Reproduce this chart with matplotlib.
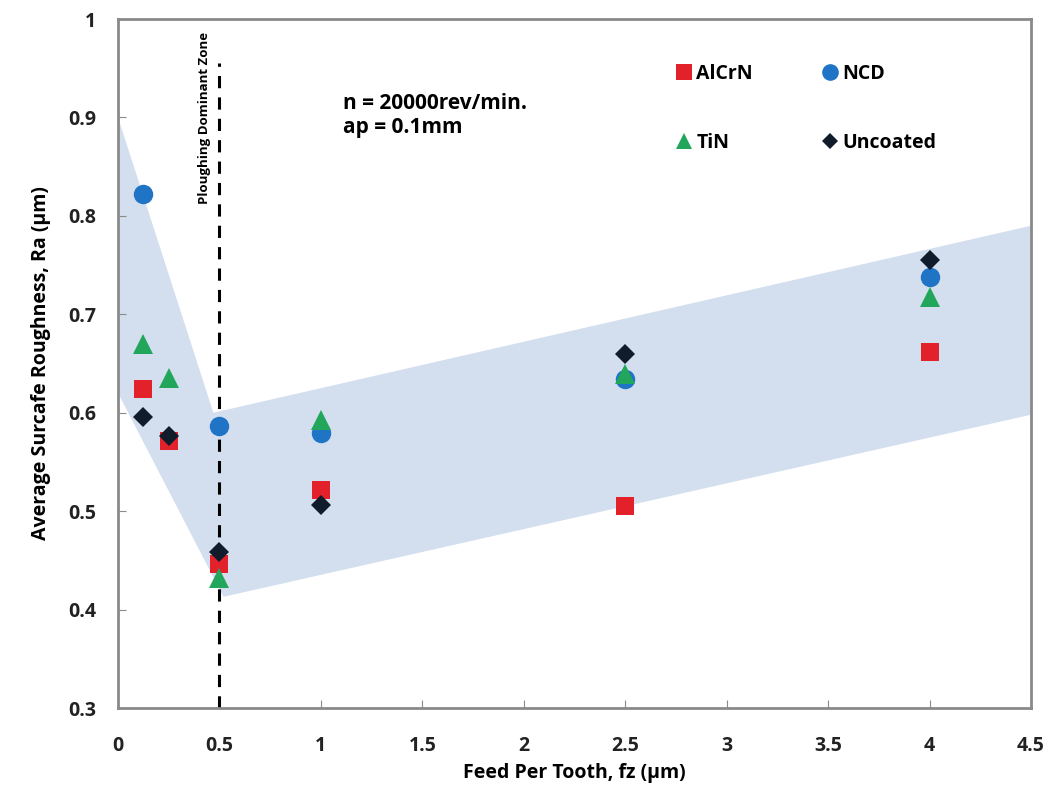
import matplotlib
matplotlib.use("Agg")
import matplotlib.pyplot as plt
from matplotlib.lines import Line2D

plt.rcParams["font.family"] = ["Open Sans", "DejaVu Sans"]

# feed per tooth (um)
fz_all = [0.125, 0.25, 0.5, 1, 2.5, 4]
fz_ncd = [0.125, 0.5, 1, 2.5, 4]

ra_alcrn = [0.624, 0.571, 0.446, 0.522, 0.505, 0.662]
ra_ncd = [0.822, 0.587, 0.579, 0.634, 0.738]
ra_tin = [0.670, 0.635, 0.432, 0.593, 0.639, 0.718]
ra_unc = [0.596, 0.576, 0.459, 0.506, 0.660, 0.755]

# shaded trend band outline (x, Ra)
band_x = [0, 0.47, 4.5, 4.5, 0.52, 0]
band_y = [0.9, 0.6, 0.79, 0.598, 0.413, 0.62]

xticks = [0, 0.5, 1, 1.5, 2, 2.5, 3, 3.5, 4, 4.5]
xticklabels = ["0", "0.5", "1", "1.5", "2", "2.5", "3", "3.5", "4", "4.5"]
yticks = [0.3, 0.4, 0.5, 0.6, 0.7, 0.8, 0.9, 1.0]
yticklabels = ["0.3", "0.4", "0.5", "0.6", "0.7", "0.8", "0.9", "1"]

red = "#e3212b"
blue = "#1f74c6"
green = "#21a65b"
black = "#111c2b"
grey = "#8a8a8a"

fig = plt.figure(figsize=(10.51, 7.92), dpi=100)
ax = fig.add_axes([0.1123, 0.106, 0.8687, 0.870])

ax.fill(band_x, band_y, color="#d3dfee", lw=0, zorder=1)
ax.plot([0.5, 0.5], [0.3, 0.955], color="black", ls=(0, (4, 3)), lw=2.2, zorder=2)

ms = 13
ax.plot(fz_ncd, ra_ncd, "o", color=blue, ms=ms + 1, mew=0, zorder=3)
ax.plot(fz_all, ra_alcrn, "s", color=red, ms=ms, mew=0, zorder=4)
ax.plot(fz_all, ra_tin, "^", color=green, ms=ms + 1, mew=0, zorder=5)
ax.plot(fz_all, ra_unc, "D", color=black, ms=ms - 3, mew=0, zorder=6)

ax.set_xlim(0, 4.5)
ax.set_ylim(0.3, 1.0)
ax.set_xticks(xticks)
ax.set_xticklabels(xticklabels)
ax.set_yticks(yticks)
ax.set_yticklabels(yticklabels)
ax.tick_params(direction="in", length=6, color=grey, labelsize=14)
ax.tick_params(axis="x", pad=20)
ax.tick_params(axis="y", pad=16)
for lab in ax.get_xticklabels() + ax.get_yticklabels():
    lab.set_fontweight("bold")
    lab.set_color("#222222")
for s in ax.spines.values():
    s.set_color(grey)
    s.set_linewidth(2)

ax.set_xlabel("Feed Per Tooth, fz (\u00b5m)", fontsize=14, fontweight="bold", labelpad=5)
ax.set_ylabel("Average Surcafe Roughness, Ra (\u00b5m)", fontsize=14, fontweight="bold",
              labelpad=12)

ax.text(0.425, 0.9, "Ploughing Dominant Zone", rotation=90, ha="center", va="center",
        fontsize=9.5, fontweight="bold")
ax.text(1.11, 0.925, "n = 20000rev/min.\nap = 0.1mm", ha="left", va="top",
        fontsize=15, fontweight="bold", linespacing=1.2)

handles = [
    Line2D([], [], marker="s", color=red, ls="", ms=11, mew=0),
    Line2D([], [], marker="^", color=green, ls="", ms=11, mew=0),
    Line2D([], [], marker="o", color=blue, ls="", ms=12, mew=0),
    Line2D([], [], marker="D", color=black, ls="", ms=8, mew=0),
]
labels = ["AlCrN", "TiN", "NCD", "Uncoated"]
ax.legend(handles, labels, ncol=2, loc="upper left", bbox_to_anchor=(0.593, 0.96),
          frameon=False, handlelength=0.7, handletextpad=0.3, labelspacing=2.5,
          columnspacing=3.6, prop={"size": 14, "weight": "bold"})

fig.savefig("out.png", dpi=100)
